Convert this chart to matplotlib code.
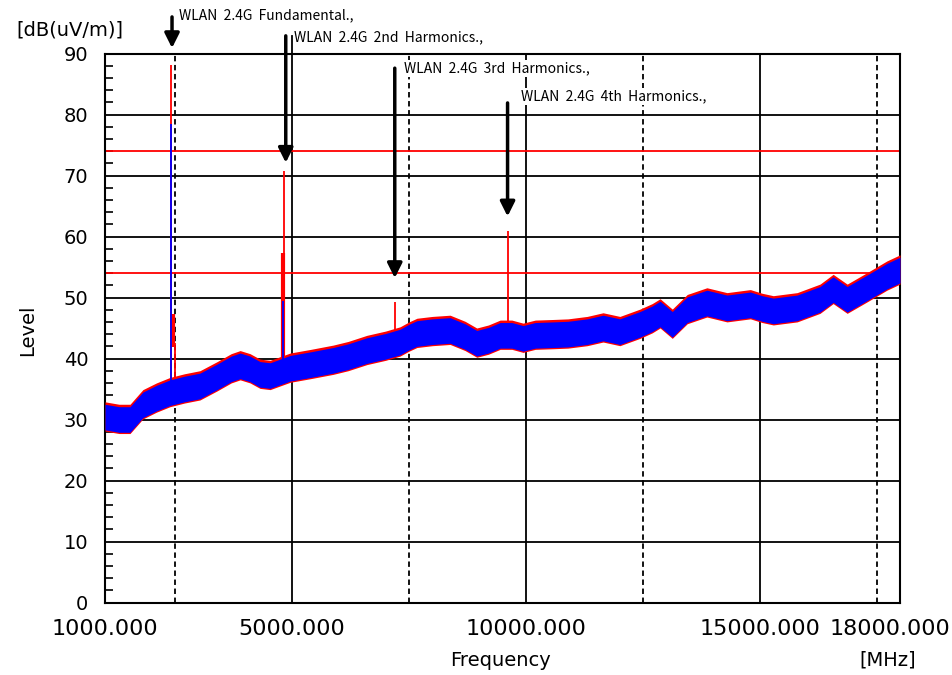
import numpy as np
import matplotlib.pyplot as plt
from matplotlib.ticker import MultipleLocator
from matplotlib.transforms import ScaledTranslation

# noise floor (centre of the trace band)
freq = [1000, 1300, 1535, 1810, 2100, 2390, 2700, 3030, 3400, 3700, 3890, 4100,
        4315, 4530, 4960, 5400, 5880, 6200, 6600, 7000, 7310, 7500, 7670, 8000,
        8380, 8700, 8950, 9200, 9450, 9700, 9940, 10200, 10580, 10900, 11310,
        11650, 12010, 12440, 12700, 12870, 13130, 13450, 13870, 14300, 14800,
        15050, 15290, 15800, 16290, 16570, 16870, 17300, 17720, 18000]
level = [30.4, 30.0, 30.0, 32.4, 33.5, 34.4, 35.0, 35.5, 37.0, 38.3, 38.8, 38.3,
         37.4, 37.2, 38.4, 39.0, 39.7, 40.3, 41.3, 42.0, 42.7, 43.5, 44.1, 44.4,
         44.6, 43.6, 42.5, 43.0, 43.8, 43.8, 43.3, 43.8, 43.9, 44.0, 44.4,
         45.0, 44.4, 45.6, 46.5, 47.3, 45.6, 48.0, 49.1, 48.3, 48.8,
         48.2, 47.8, 48.3, 49.7, 51.3, 49.7, 51.6, 53.5, 54.5]
blue_lo, blue_hi = 2.1, 2.1
red_lo, red_hi = 2.3, 2.5

# emissions (spikes)
red_spike_freq = [2405, 2412, 2490, 4820, 7202, 9612]
red_spike_base = [34.0, 34.0, 34.5, 38.5, 43.0, 44.0]
red_spike_top = [74.8, 88.2, 42.5, 70.8, 49.2, 60.9]
red_thick_freq = [2460, 4800]
red_thick_base = [41.9, 38.5]
red_thick_top = [47.3, 57.3]
blue_spike_freq = [2412, 4810]
blue_spike_base = [33.0, 38.0]
blue_spike_top = [78.4, 49.4]

limits = [74, 54]

labels = ['WLAN  2.4G  Fundamental.,', 'WLAN  2.4G  2nd  Harmonics.,',
          'WLAN  2.4G  3rd  Harmonics.,', 'WLAN  2.4G  4th  Harmonics.,']
arrow_freq = [2433, 4865, 7196, 9608]
arrow_top = [96.0, 92.9, 87.6, 81.9]
arrow_tip = [90.9, 72.1, 53.2, 63.3]
label_freq = [2583, 5042, 7394, 9896]
label_level = [96.3, 92.7, 87.5, 83.0]

xticks = [1000, 5000, 10000, 15000, 18000]
solid_x = [5000, 10000, 15000]
dashed_x = [2500, 7500, 12500, 17500]

fig = plt.figure(figsize=(9.52, 6.75), dpi=100)
ax = fig.add_axes([0.1103, 0.1074, 0.8351, 0.8133])
ax.set_xlim(1000, 18000)
ax.set_ylim(0, 90)

for y in range(10, 90, 10):
    ax.axhline(y, color='black', lw=1.3, zorder=1)
for x in solid_x:
    ax.axvline(x, color='black', lw=1.3, zorder=1)
for x in dashed_x:
    ax.axvline(x, color='black', lw=1.3, ls=(0, (3, 2)), zorder=1)
for y in limits:
    ax.axhline(y, color='red', lw=1.3, zorder=2)

lv = np.array(level)
ax.fill_between(freq, lv - red_lo, lv + red_hi, color='red', lw=0, zorder=3)
ax.vlines(red_spike_freq, red_spike_base, red_spike_top, color='red', lw=1.3, zorder=4)
ax.vlines(red_thick_freq, red_thick_base, red_thick_top, color='red', lw=3, zorder=4)
ax.fill_between(freq, lv - blue_lo, lv + blue_hi, color='blue', lw=0, zorder=5)
ax.vlines(blue_spike_freq, blue_spike_base, blue_spike_top, color='blue', lw=1.3, zorder=6)

for i in range(len(labels)):
    ax.annotate('', xy=(arrow_freq[i], arrow_tip[i]), xytext=(arrow_freq[i], arrow_top[i]),
                arrowprops=dict(arrowstyle='-|>', color='black', lw=2.5, mutation_scale=22,
                                shrinkA=0, shrinkB=0),
                annotation_clip=False, zorder=8)
    ax.text(label_freq[i], label_level[i], labels[i], fontsize=10, va='center', ha='left',
            family=['Noto Sans CJK KR', 'DejaVu Sans'], clip_on=False, zorder=7,
            bbox=dict(fc='white', ec='none', pad=1))
ax.plot([5000, 5000], [90, 92.9], color='black', lw=1.3, clip_on=False, zorder=1)

for s in ax.spines.values():
    s.set_linewidth(1.5)

ax.set_xticks(xticks)
ax.set_xticklabels(['%.3f' % v for v in xticks], fontsize=16)
ax.set_yticks(range(0, 91, 10))
ax.set_yticklabels([str(v) for v in range(0, 91, 10)], fontsize=14)
ax.yaxis.set_minor_locator(MultipleLocator(2))
ax.tick_params(axis='x', length=0, pad=12)
ax.tick_params(axis='y', which='major', length=0, pad=12)
ax.tick_params(axis='y', which='minor', direction='in', length=6, width=1.2)
last = ax.get_xticklabels()[-1]
last.set_transform(last.get_transform() + ScaledTranslation(-0.1, 0, fig.dpi_scale_trans))

fig.text(500 / 952, 1 - 660 / 675, 'Frequency', fontsize=14, ha='center', va='center')
fig.text(888 / 952, 1 - 660 / 675, '[MHz]', fontsize=14, ha='center', va='center')
fig.text(28 / 952, 1 - 330 / 675, 'Level', fontsize=14, ha='center', va='center', rotation=90)
fig.text(70 / 952, 1 - 30 / 675, '[dB(uV/m)]', fontsize=14, ha='center', va='center')

fig.savefig('out.png', dpi=100)
